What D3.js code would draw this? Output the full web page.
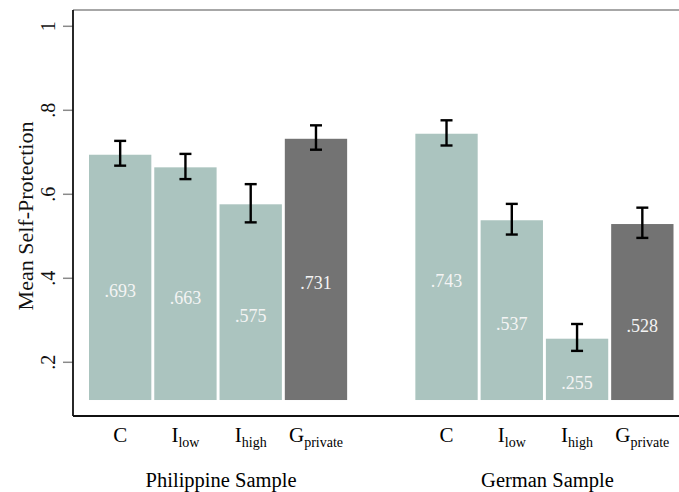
<!DOCTYPE html>
<html>
<head>
<meta charset="utf-8">
<script src="https://cdn.jsdelivr.net/npm/d3@7"></script>
<style>
  html, body { margin: 0; padding: 0; background: #fff; }
  svg { display: block; }
  text { font-family: "Liberation Serif", "DejaVu Serif", serif; }
</style>
</head>
<body>
<svg id="chart" width="679" height="492"></svg>
<script>
// ---- data ----
const groups = ["Philippine Sample", "German Sample"];
const categories = ["C", "I_low", "I_high", "G_private"];
const catMain = ["C", "I", "I", "G"];
const catSub = ["", "low", "high", "private"];
const philValues = [0.693, 0.663, 0.575, 0.731];
const gerValues = [0.743, 0.537, 0.255, 0.528];
const philLower = [0.667, 0.635, 0.532, 0.705];
const philUpper = [0.726, 0.695, 0.623, 0.763];
const gerLower = [0.715, 0.503, 0.226, 0.495];
const gerUpper = [0.775, 0.576, 0.290, 0.567];
const valueLabels = [[".693", ".663", ".575", ".731"], [".743", ".537", ".255", ".528"]];
const yTicks = [0.2, 0.4, 0.6, 0.8, 1];
const yTickLabels = [".2", ".4", ".6", ".8", "1"];
const yTitle = "Mean Self-Protection";

// ---- build rows ----
const rows = [];
const slots = [];
groups.forEach((g, gi) => {
  const vals = gi === 0 ? philValues : gerValues;
  const lo = gi === 0 ? philLower : gerLower;
  const hi = gi === 0 ? philUpper : gerUpper;
  categories.forEach((c, ci) => {
    const key = gi + "-" + c;
    slots.push(key);
    rows.push({ key, group: gi, ci, value: vals[ci], lo: lo[ci], hi: hi[ci], label: valueLabels[gi][ci] });
  });
  if (gi === 0) slots.push("gap");
});

// ---- layout ----
const plotLeft = 73, plotRight = 679, plotTop = 10, plotBottom = 416;
const barBase = 0.109;       // bars start here (Stata-like base)
const labelBase = 0.042;     // value labels placed midway to this

const y = d3.scaleLinear().domain([0.2, 1]).range([361.8, 25.8]);
const x = d3.scaleBand().domain(slots).range([89, 673.5]).paddingInner(0.045).paddingOuter(0);

const svg = d3.select("#chart");
const light = "#abc4bf", dark = "#737373";

// top frame line
svg.append("line").attr("x1", plotLeft).attr("x2", plotRight)
  .attr("y1", plotTop).attr("y2", plotTop)
  .attr("stroke", "#8a8a8a").attr("stroke-width", 1.5);

// bars
svg.append("g").selectAll("rect").data(rows).join("rect")
  .attr("x", d => x(d.key))
  .attr("width", x.bandwidth())
  .attr("y", d => y(d.value))
  .attr("height", d => y(barBase) - y(d.value))
  .attr("fill", d => d.ci === 3 ? dark : light);

// value labels
svg.append("g").selectAll("text").data(rows).join("text")
  .attr("x", d => x(d.key) + x.bandwidth() / 2)
  .attr("y", d => (y(d.value) + y(labelBase)) / 2 + 6)
  .attr("text-anchor", "middle")
  .attr("font-size", 18)
  .attr("fill", "#f4f4f4")
  .text(d => d.label);

// error bars
const eb = svg.append("g").attr("stroke", "#000").attr("stroke-width", 2.4).attr("fill", "none");
rows.forEach(d => {
  const cx = x(d.key) + x.bandwidth() / 2;
  eb.append("line").attr("x1", cx).attr("x2", cx).attr("y1", y(d.hi)).attr("y2", y(d.lo));
  eb.append("line").attr("x1", cx - 6).attr("x2", cx + 6).attr("y1", y(d.hi)).attr("y2", y(d.hi));
  eb.append("line").attr("x1", cx - 6).attr("x2", cx + 6).attr("y1", y(d.lo)).attr("y2", y(d.lo));
});

// y axis
const yAxis = d3.axisLeft(y).tickValues(yTicks).tickSize(10).tickFormat((d, i) => yTickLabels[i]);
const gy = svg.append("g").attr("transform", `translate(${plotLeft},0)`).call(yAxis);
gy.select(".domain").remove();
gy.selectAll(".tick line").attr("stroke", "#8a8a8a").attr("stroke-width", 1.5);
gy.selectAll(".tick text")
  .attr("font-family", "Liberation Serif, serif")
  .attr("font-size", 20)
  .attr("fill", "#111")
  .attr("x", null).attr("dy", null)
  .attr("text-anchor", "middle")
  .attr("transform", "translate(-18,0) rotate(-90)");

// axis lines
svg.append("line").attr("x1", plotLeft).attr("x2", plotLeft).attr("y1", plotTop).attr("y2", plotBottom)
  .attr("stroke", "#111").attr("stroke-width", 1.8);
svg.append("line").attr("x1", plotLeft).attr("x2", plotRight).attr("y1", plotBottom).attr("y2", plotBottom)
  .attr("stroke", "#111").attr("stroke-width", 1.8);

// y title
svg.append("text")
  .attr("transform", `translate(33,${(plotTop + plotBottom) / 2 + 3}) rotate(-90)`)
  .attr("text-anchor", "middle")
  .attr("font-size", 22)
  .attr("fill", "#111")
  .text(yTitle);

// category labels
const cat = svg.append("g");
rows.forEach(d => {
  const t = cat.append("text")
    .attr("x", x(d.key) + x.bandwidth() / 2)
    .attr("y", 442)
    .attr("text-anchor", "middle")
    .attr("font-size", 21)
    .attr("fill", "#000");
  t.append("tspan").text(catMain[d.ci]);
  if (catSub[d.ci]) {
    t.append("tspan").attr("font-size", 14).attr("dy", 5).text(catSub[d.ci]);
  }
});

// group labels
groups.forEach((g, gi) => {
  const keys = slots.filter(k => k.startsWith(gi + "-"));
  const x0 = x(keys[0]), x1 = x(keys[keys.length - 1]) + x.bandwidth();
  svg.append("text")
    .attr("x", (x0 + x1) / 2 + 3)
    .attr("y", 487)
    .attr("text-anchor", "middle")
    .attr("font-size", 20.5)
    .attr("fill", "#000")
    .text(g);
});
</script>
</body>
</html>
